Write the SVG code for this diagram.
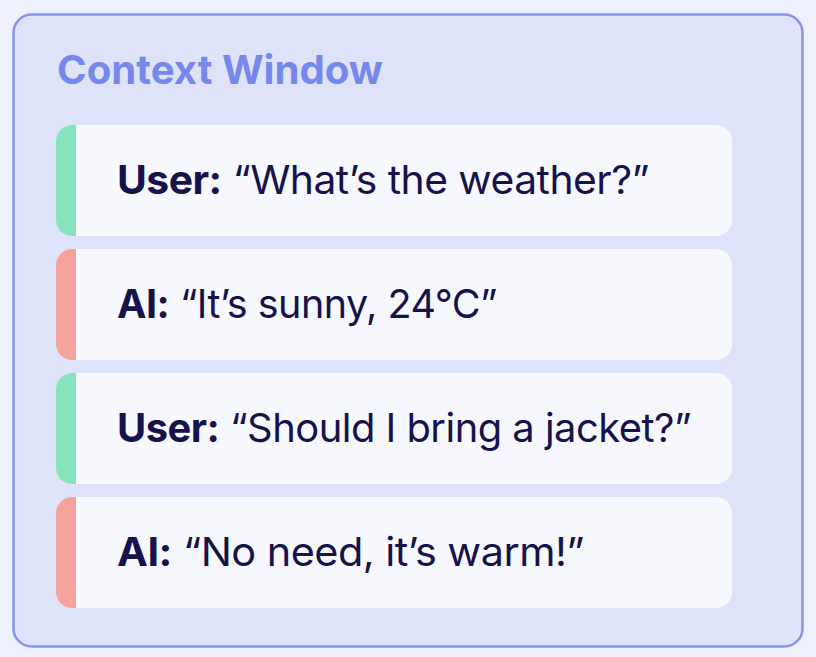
<svg xmlns="http://www.w3.org/2000/svg" width="816" height="657" viewBox="0 0 816 657">
<style>
.card{fill:#F7F8FE}
.u{fill:#86E3BE}
.a{fill:#F4A29C}
.t{font-family:Inter,"Noto Sans",sans-serif;font-size:40px;fill:#16124B;letter-spacing:-0.5px}
.b{font-weight:700}
</style>
<defs>
<clipPath id="c1"><rect x="56" y="125" width="676" height="111" rx="16"/></clipPath>
<clipPath id="c2"><rect x="56" y="249" width="676" height="111" rx="16"/></clipPath>
<clipPath id="c3"><rect x="56" y="373" width="676" height="111" rx="16"/></clipPath>
<clipPath id="c4"><rect x="56" y="497" width="676" height="111" rx="16"/></clipPath>
</defs>
<rect width="816" height="657" fill="#EEF1FC"/>
<g id="window">
<rect x="13.5" y="14.5" width="789" height="632" rx="18" fill="#DFE3F9" stroke="#8595EC" stroke-width="2.5"/>
<text x="57" y="84" font-family="Inter,'Noto Sans',sans-serif" font-size="40" font-weight="700" fill="#7688EC" textLength="326" lengthAdjust="spacingAndGlyphs">Context Window</text>
</g>
<g id="msg1">
<rect class="card" x="56" y="125" width="676" height="111" rx="16"/>
<rect class="u" x="56" y="125" width="20" height="111" clip-path="url(#c1)"/>
<text class="t" x="117" y="194" textLength="532" lengthAdjust="spacingAndGlyphs"><tspan class="b">User:</tspan>  “What’s the weather?”</text>
</g>
<g id="msg2">
<rect class="card" x="56" y="249" width="676" height="111" rx="16"/>
<rect class="a" x="56" y="249" width="20" height="111" clip-path="url(#c2)"/>
<text class="t" x="117" y="318" textLength="380" lengthAdjust="spacingAndGlyphs"><tspan class="b">AI:</tspan> “It’s sunny, 24°C”</text>
</g>
<g id="msg3">
<rect class="card" x="56" y="373" width="676" height="111" rx="16"/>
<rect class="u" x="56" y="373" width="20" height="111" clip-path="url(#c3)"/>
<text class="t" x="117" y="442" textLength="574" lengthAdjust="spacingAndGlyphs"><tspan class="b">User:</tspan> “Should I bring a jacket?”</text>
</g>
<g id="msg4">
<rect class="card" x="56" y="497" width="676" height="111" rx="16"/>
<rect class="a" x="56" y="497" width="20" height="111" clip-path="url(#c4)"/>
<text class="t" x="117" y="566" textLength="467" lengthAdjust="spacingAndGlyphs"><tspan class="b">AI:</tspan>  “No need, it’s warm!”</text>
</g>
</svg>
